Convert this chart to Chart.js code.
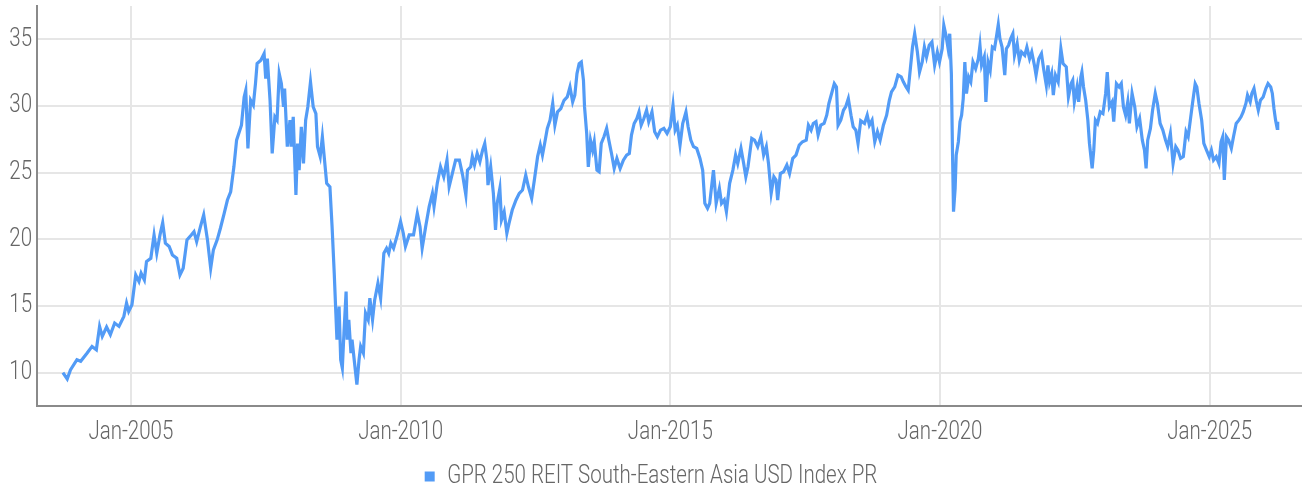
<!DOCTYPE html>
<html>
<head>
<meta charset="utf-8">
<script src="https://cdn.jsdelivr.net/npm/chart.js@4.4.1/dist/chart.umd.min.js"></script>
<style>
html,body{margin:0;padding:0;background:#ffffff;overflow:hidden}
canvas{display:block}
</style>
</head>
<body>
<canvas id="c" width="1302" height="491"></canvas>
<script>
// ---- data ----
const seriesName = 'GPR 250 REIT South-Eastern Asia USD Index PR';
const xTickYears = [2005, 2010, 2015, 2020, 2025];
const yTickValues = [10, 15, 20, 25, 30, 35];

// decimal years
const dates = [
 2003.74,2003.82,2003.88,2004.00,2004.07,2004.19,2004.28,2004.36,2004.42,2004.47,2004.55,2004.62,2004.70,2004.78,2004.87,2004.92,2004.96,
 2005.02,2005.09,2005.15,2005.19,2005.25,2005.29,2005.37,2005.43,2005.48,2005.54,2005.59,2005.64,2005.71,2005.77,2005.85,2005.91,2005.97,
 2006.04,2006.12,2006.17,2006.22,2006.29,2006.35,2006.42,2006.48,2006.53,2006.60,2006.66,2006.73,2006.79,2006.85,2006.91,2006.96,
 2007.00,2007.05,2007.10,2007.13,2007.17,2007.22,2007.27,2007.31,2007.34,2007.41,2007.47,2007.50,2007.53,2007.58,2007.62,2007.67,2007.71,2007.75,2007.79,2007.83,2007.85,2007.90,2007.95,2007.97,
 2008.01,2008.06,2008.09,2008.12,2008.16,2008.20,2008.24,2008.28,2008.33,2008.38,2008.43,2008.46,2008.51,2008.55,2008.59,2008.63,2008.69,2008.73,2008.77,2008.80,2008.82,2008.86,2008.89,2008.92,2008.95,2008.99,
 2009.01,2009.04,2009.08,2009.10,2009.14,2009.19,2009.23,2009.26,2009.31,2009.35,2009.40,2009.43,2009.48,2009.52,2009.58,2009.63,2009.69,2009.74,2009.78,2009.82,2009.87,2009.94,
 2010.00,2010.05,2010.09,2010.16,2010.24,2010.31,2010.36,2010.40,2010.47,2010.53,2010.59,2010.62,2010.68,2010.74,2010.80,2010.86,2010.90,2010.96,
 2011.02,2011.09,2011.15,2011.21,2011.24,2011.30,2011.33,2011.37,2011.42,2011.47,2011.52,2011.56,2011.60,2011.62,2011.67,2011.72,2011.76,2011.79,2011.84,2011.87,2011.92,2011.97,
 2012.01,2012.07,2012.14,2012.20,2012.26,2012.32,2012.37,2012.43,2012.48,2012.54,2012.59,2012.63,2012.67,2012.72,2012.77,2012.82,2012.86,2012.91,2012.97,
 2013.03,2013.09,2013.14,2013.19,2013.23,2013.27,2013.31,2013.35,2013.39,2013.41,2013.45,2013.48,2013.52,2013.56,2013.59,2013.64,2013.68,2013.72,2013.77,2013.82,2013.86,2013.91,2013.96,
 2014.01,2014.07,2014.13,2014.19,2014.24,2014.28,2014.33,2014.38,2014.42,2014.46,2014.51,2014.56,2014.60,2014.66,2014.71,2014.76,2014.82,2014.88,2014.94,
 2015.00,2015.05,2015.09,2015.13,2015.18,2015.23,2015.29,2015.33,2015.38,2015.43,2015.49,2015.55,2015.60,2015.64,2015.69,2015.73,2015.80,2015.85,2015.91,2015.95,
 2016.00,2016.04,2016.10,2016.16,2016.21,2016.25,2016.31,2016.36,2016.40,2016.44,2016.51,2016.56,2016.62,2016.68,2016.73,2016.78,2016.82,2016.87,2016.92,2016.96,2016.99,
 2017.04,2017.10,2017.16,2017.21,2017.27,2017.33,2017.39,2017.45,2017.52,2017.56,2017.61,2017.65,2017.70,2017.74,2017.79,2017.85,2017.90,2017.94,2017.99,
 2018.04,2018.08,2018.11,2018.16,2018.21,2018.25,2018.30,2018.35,2018.39,2018.44,2018.48,2018.53,2018.60,2018.65,2018.69,2018.74,2018.79,2018.84,2018.89,2018.95,
 2019.01,2019.06,2019.10,2019.16,2019.22,2019.28,2019.32,2019.37,2019.41,2019.45,2019.49,2019.53,2019.58,2019.62,2019.67,2019.71,2019.75,2019.80,2019.85,2019.90,2019.95,2019.99,
 2020.04,2020.07,2020.11,2020.15,2020.18,2020.21,2020.23,2020.25,2020.28,2020.30,2020.34,2020.37,2020.40,2020.43,2020.46,2020.49,2020.53,2020.57,2020.61,2020.66,2020.71,2020.74,2020.77,2020.82,2020.85,2020.89,2020.93,2020.97,
 2021.01,2021.05,2021.08,2021.11,2021.15,2021.20,2021.23,2021.27,2021.31,2021.35,2021.38,2021.43,2021.47,2021.51,2021.57,2021.61,2021.66,2021.70,2021.75,2021.78,2021.83,2021.88,2021.92,2021.97,
 2022.00,2022.03,2022.07,2022.10,2022.14,2022.19,2022.24,2022.28,2022.34,2022.38,2022.43,2022.46,2022.49,2022.54,2022.57,2022.61,2022.63,2022.66,2022.70,2022.74,2022.77,2022.82,2022.85,2022.88,2022.92,2022.97,
 2023.02,2023.07,2023.10,2023.14,2023.19,2023.22,2023.27,2023.32,2023.36,2023.40,2023.44,2023.48,2023.51,2023.56,2023.61,2023.65,2023.70,2023.75,2023.79,2023.82,2023.85,2023.90,2023.94,2023.99,
 2024.03,2024.08,2024.13,2024.18,2024.22,2024.27,2024.32,2024.37,2024.41,2024.46,2024.51,2024.56,2024.60,2024.64,2024.68,2024.73,2024.76,2024.80,2024.85,2024.89,2024.94,2024.99,
 2025.03,2025.07,2025.12,2025.17,2025.21,2025.24,2025.27,2025.31,2025.35,2025.40,2025.44,2025.49,2025.54,2025.58,2025.62,2025.67,2025.70,2025.75,2025.78,2025.82,2025.86,2025.90,2025.94,2025.99,
 2026.04,2026.08,2026.13,2026.16,2026.19,2026.22,2026.25,2026.26
];

const values = [
 10.0,9.53,10.2,10.97,10.85,11.47,11.97,11.72,13.47,12.72,13.42,12.84,13.72,13.47,14.22,15.22,14.59,
 15.09,17.33,16.84,17.46,16.96,18.33,18.58,20.33,18.96,20.33,21.25,19.71,19.46,18.83,18.58,17.33,17.83,
 19.96,20.33,20.58,19.83,20.95,21.83,19.96,17.83,19.21,19.96,20.83,21.95,22.95,23.57,25.44,27.44,
 27.94,28.56,30.68,31.18,26.82,30.43,30.06,31.68,33.18,33.43,33.93,32.06,33.55,30.43,26.44,29.19,28.94,32.43,31.68,29.93,31.3,26.95,28.94,26.95,
 29.19,23.32,27.18,25.19,28.44,25.69,28.94,29.93,31.81,29.93,29.43,26.95,26.2,27.69,25.94,24.2,23.94,20.95,17.46,14.47,12.47,14.96,10.97,10.35,12.97,16.09,
 12.47,13.97,11.47,12.47,10.97,9.1,10.97,11.97,11.47,14.47,13.97,15.59,13.97,15.46,16.71,15.59,18.96,19.33,18.96,19.71,19.33,20.33,
 21.33,20.46,19.46,20.33,20.33,21.95,20.95,19.33,21.08,22.45,23.45,22.45,24.2,25.44,24.69,25.94,23.94,24.94,
 25.94,25.94,24.82,23.32,25.19,25.44,26.2,25.57,26.44,25.82,26.69,27.19,25.94,24.07,25.44,23.45,20.7,22.7,23.82,21.45,22.07,20.46,
 21.2,22.2,22.95,23.45,23.7,24.82,23.94,23.07,24.45,26.2,27.07,26.32,27.19,28.32,28.94,30.19,28.56,29.56,29.81,
 30.43,30.68,31.43,30.31,30.81,32.43,33.18,33.3,31.93,29.93,27.94,25.44,27.44,26.69,27.32,25.19,25.07,27.19,27.69,28.32,27.44,26.44,25.32,
 26.07,25.32,25.94,26.32,26.44,27.82,28.69,29.06,29.56,28.56,29.06,29.68,28.82,29.56,28.07,27.69,28.19,28.32,27.94,
 28.44,30.06,28.19,28.56,27.07,28.69,29.56,28.44,27.44,26.95,26.82,26.07,25.19,22.7,22.32,22.7,25.19,22.7,23.82,22.7,
 22.95,22.07,24.2,25.19,26.32,25.69,26.82,25.69,24.69,25.44,27.57,27.44,26.95,27.69,26.32,26.95,25.69,23.45,24.69,24.45,22.95,
 24.94,25.07,25.57,24.94,26.07,26.32,27.07,27.32,27.44,28.56,28.19,28.69,28.82,27.82,28.56,28.69,29.31,30.19,30.94,
 31.68,31.43,28.56,28.94,29.68,29.93,30.56,29.31,28.44,28.19,27.19,28.9,28.69,29.31,28.56,28.94,27.32,28.07,27.44,28.56,
 29.31,30.43,31.06,31.43,32.31,32.18,31.81,31.43,31.18,32.8,34.42,35.42,34.05,32.55,33.3,34.42,33.68,34.55,34.8,33.05,34.05,33.3,
 34.3,36.05,35.3,34.3,35.42,32.43,26.82,22.07,23.82,26.32,27.32,28.82,29.31,30.56,33.3,30.94,32.18,31.81,33.3,32.8,33.55,34.55,33.05,33.68,30.31,33.3,32.68,34.42,
 34.3,35.3,36.1,35.05,34.42,32.31,34.3,34.55,35.05,35.42,33.8,34.68,33.43,34.05,33.8,34.42,33.55,34.05,33.05,32.31,33.55,33.93,32.8,31.56,
 33.05,31.81,32.43,30.81,32.31,31.81,34.3,33.18,32.93,30.68,31.68,31.93,30.31,31.43,30.31,32.18,32.55,31.43,30.43,28.94,27.19,25.32,26.69,28.94,28.69,29.56,
 29.43,30.94,32.55,29.93,30.31,28.82,31.68,31.43,31.68,29.93,29.31,30.31,28.69,30.94,29.93,28.44,29.06,27.44,26.69,25.32,27.44,28.32,29.68,30.94,
 30.19,28.69,28.19,27.44,26.95,27.94,25.69,26.95,26.69,26.07,26.2,28.07,27.69,28.94,30.19,31.68,31.43,30.19,28.94,27.19,26.69,26.2,
 26.69,25.94,26.2,25.69,27.32,27.69,24.45,27.69,27.44,26.82,27.69,28.69,28.94,29.19,29.56,30.19,30.81,30.31,30.94,31.31,30.43,29.68,30.43,30.68,
 31.31,31.68,31.43,30.94,29.81,28.94,28.32,28.82
];

// ---- chart ----
const FONT_FAMILY = "Roboto, 'Noto Sans', sans-serif";
const FONT_WEIGHT = 300;
const TEXT_STRETCH = 0.82;   // horizontal squeeze to mimic a condensed face
const TEXT_COLOR = '#666666';
const LINE_COLOR = '#529BF6';

const canvas = document.getElementById('c');
const ctx2d = canvas.getContext('2d');
// condensed text rendering: squeeze glyphs horizontally around their anchor point
(function () {
  const origFill = ctx2d.fillText.bind(ctx2d);
  const origMeasure = ctx2d.measureText.bind(ctx2d);
  ctx2d.fillText = function (t, x, y) {
    this.save();
    this.translate(x, y);
    this.scale(TEXT_STRETCH, 1);
    origFill(t, 0, 0);
    this.restore();
  };
  ctx2d.measureText = function (t) {
    const m = origMeasure(t);
    return {
      width: m.width * TEXT_STRETCH,
      actualBoundingBoxAscent: m.actualBoundingBoxAscent,
      actualBoundingBoxDescent: m.actualBoundingBoxDescent,
      actualBoundingBoxLeft: m.actualBoundingBoxLeft * TEXT_STRETCH,
      actualBoundingBoxRight: m.actualBoundingBoxRight * TEXT_STRETCH
    };
  };
})();

const points = dates.map((d, i) => ({ x: d, y: values[i] }));
const tickFont = { family: FONT_FAMILY, size: 25, weight: FONT_WEIGHT };

new Chart(ctx2d, {
  type: 'line',
  data: {
    datasets: [{
      label: seriesName,
      data: points,
      borderColor: LINE_COLOR,
      backgroundColor: LINE_COLOR,
      borderWidth: 3.2,
      pointRadius: 0,
      tension: 0,
      fill: false
    }]
  },
  options: {
    responsive: false,
    animation: false,
    events: [],
    layout: { padding: { left: 0, right: 0, top: 6, bottom: -8 } },
    scales: {
      x: {
        type: 'linear',
        min: 2003.26,
        max: 2026.71,
        afterBuildTicks: (s) => { s.ticks = xTickYears.map(v => ({ value: v })); },
        afterFit: (s) => { s.height = 48; s.paddingLeft = 0; s.paddingRight = 0; },
        ticks: {
          callback: (v) => 'Jan-' + v,
          font: tickFont,
          color: TEXT_COLOR,
          padding: 12,
          maxRotation: 0,
          autoSkip: false
        },
        grid: { color: '#e6e6e6', lineWidth: 2, drawTicks: false },
        border: { display: true, color: '#8a8a8a', width: 2 }
      },
      y: {
        min: 7.5,
        max: 37.5,
        afterBuildTicks: (s) => { s.ticks = yTickValues.map(v => ({ value: v })); },
        afterFit: (s) => { s.width = 37; s.paddingTop = 0; s.paddingBottom = 0; },
        ticks: {
          font: tickFont,
          color: TEXT_COLOR,
          padding: 5
        },
        grid: { color: '#e6e6e6', lineWidth: 2, drawTicks: false },
        border: { display: true, color: '#8a8a8a', width: 2 }
      }
    },
    plugins: {
      legend: {
        position: 'bottom',
        labels: {
          boxWidth: 10,
          boxHeight: 10,
          padding: 10,
          color: TEXT_COLOR,
          font: tickFont,
          generateLabels: (chart) => Chart.defaults.plugins.legend.labels.generateLabels(chart).map(l => Object.assign(l, { lineWidth: 0 }))
        }
      },
      tooltip: { enabled: false }
    }
  }
});
</script>
</body>
</html>
